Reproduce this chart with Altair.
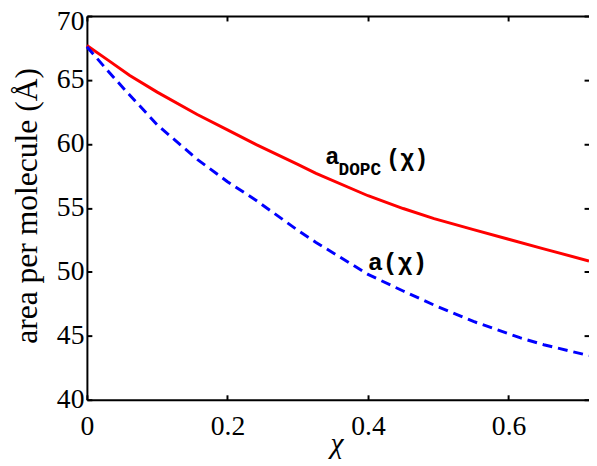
import altair as alt
import pandas as pd

# data
chi_red = [0.0, 0.03, 0.061, 0.1, 0.157, 0.2, 0.241, 0.3, 0.326, 0.4, 0.45, 0.494, 0.55, 0.6, 0.65, 0.7144]
a_dopc = [67.7, 66.55, 65.35, 64.05, 62.3, 61.1, 59.95, 58.4, 57.7, 55.95, 54.95, 54.16, 53.3, 52.55, 51.8, 50.85]

chi_blue = [0.0, 0.03, 0.059, 0.1, 0.157, 0.2, 0.241, 0.3, 0.326, 0.4, 0.45, 0.494, 0.55, 0.616, 0.65, 0.7144]
a_mix = [67.6, 65.7, 63.93, 61.5, 58.79, 57.05, 55.58, 53.25, 52.3, 49.8, 48.5, 47.4, 46.12, 44.85, 44.3, 43.45]

x_ticks = [0, 0.2, 0.4, 0.6]
y_ticks = [40, 45, 50, 55, 60, 65, 70]

label_text = ["a", "DOPC", "(χ)", "a(χ)"]
label_x = [0.339, 0.358, 0.4255, 0.4]
label_y = [58.43, 57.6, 58.3, 50.18]
label_size = [24, 18, 24, 25]

red_df = pd.DataFrame({"chi": chi_red, "area": a_dopc})
blue_df = pd.DataFrame({"chi": chi_blue, "area": a_mix})
lab_df = pd.DataFrame({"t": label_text, "chi": label_x, "area": label_y, "s": label_size})

xs = alt.Scale(domain=[0, 0.7144], nice=False, zero=False)
ys = alt.Scale(domain=[40, 70], nice=False, zero=False)

serif = "Liberation Serif"
common = dict(domainColor="black", domainWidth=2, tickColor="black", tickWidth=2,
              labelColor="black", labelFont=serif, labelFontSize=28, grid=False)

ax_bottom = alt.Axis(orient="bottom", values=x_ticks, ticks=False, domain=True, labelFlush=False,
                     labelPadding=13, title="χ", titleFont=serif, titleFontSize=30,
                     titleFontStyle="italic", titleFontWeight="normal", titleColor="black",
                     titleX=253, titleY=53, titleBaseline="alphabetic", format="g", **common)
ax_left = alt.Axis(orient="left", values=y_ticks, ticks=False, domain=True, labelPadding=3,
                   labelOffset={"expr": "datum.value == 70 ? 6 : 0"},
                   title="area per molecule (Å)", titleFont=serif, titleFontSize=32,
                   titleFontWeight="normal", titleColor="black", titleX=-51, titleY=192,
                   titleBaseline="alphabetic", **common)
ax_top = alt.Axis(orient="top", values=x_ticks, ticks=False, labels=False, domain=True, title=None, **common)
ax_right_t = alt.Axis(orient="right", values=y_ticks, ticks=True, tickSize=5, offset=-5,
                      labels=False, domain=False, title=None, **common)
ax_bottom_t = alt.Axis(orient="bottom", values=x_ticks, ticks=True, tickSize=5, offset=-5,
                       labels=False, domain=False, title=None, **common)
ax_left_t = alt.Axis(orient="left", values=y_ticks, ticks=True, tickSize=5, offset=-5,
                     labels=False, domain=False, title=None, **common)
ax_top_t = alt.Axis(orient="top", values=x_ticks, ticks=True, tickSize=5, offset=-5,
                    labels=False, domain=False, title=None, **common)

red = alt.Chart(red_df).mark_line(color="#ff0000", strokeWidth=3).encode(
    x=alt.X("chi:Q", scale=xs, axis=ax_bottom),
    y=alt.Y("area:Q", scale=ys, axis=ax_left),
)
blue = alt.Chart(blue_df).mark_line(color="#0000ff", strokeWidth=3, strokeDash=[10, 6]).encode(
    x=alt.X("chi:Q", scale=xs, axis=ax_top),
    y=alt.Y("area:Q", scale=ys, axis=ax_right_t),
)
ticks1 = alt.Chart(red_df).mark_line(opacity=0).encode(
    x=alt.X("chi:Q", scale=xs, axis=ax_bottom_t),
    y=alt.Y("area:Q", scale=ys, axis=ax_left_t),
)
labels = alt.Chart(lab_df).mark_text(font="Liberation Mono", fontWeight="bold", align="left",
                                      baseline="alphabetic", color="black").encode(
    x=alt.X("chi:Q", scale=xs, axis=ax_top_t),
    y=alt.Y("area:Q", scale=ys, axis=None),
    text="t:N",
    size=alt.Size("s:Q", scale=None, legend=None),
)

chart = alt.layer(red, blue, ticks1, labels).resolve_axis(x="independent", y="independent").properties(
    width=509, height=389,
    autosize=alt.AutoSizeParams(type="none"),
    padding={"left": 80, "top": 5, "right": 0, "bottom": 62},
).configure_view(stroke=None).configure(background="white")

chart.save("out.html", embed_options={"renderer": "svg", "actions": False})
